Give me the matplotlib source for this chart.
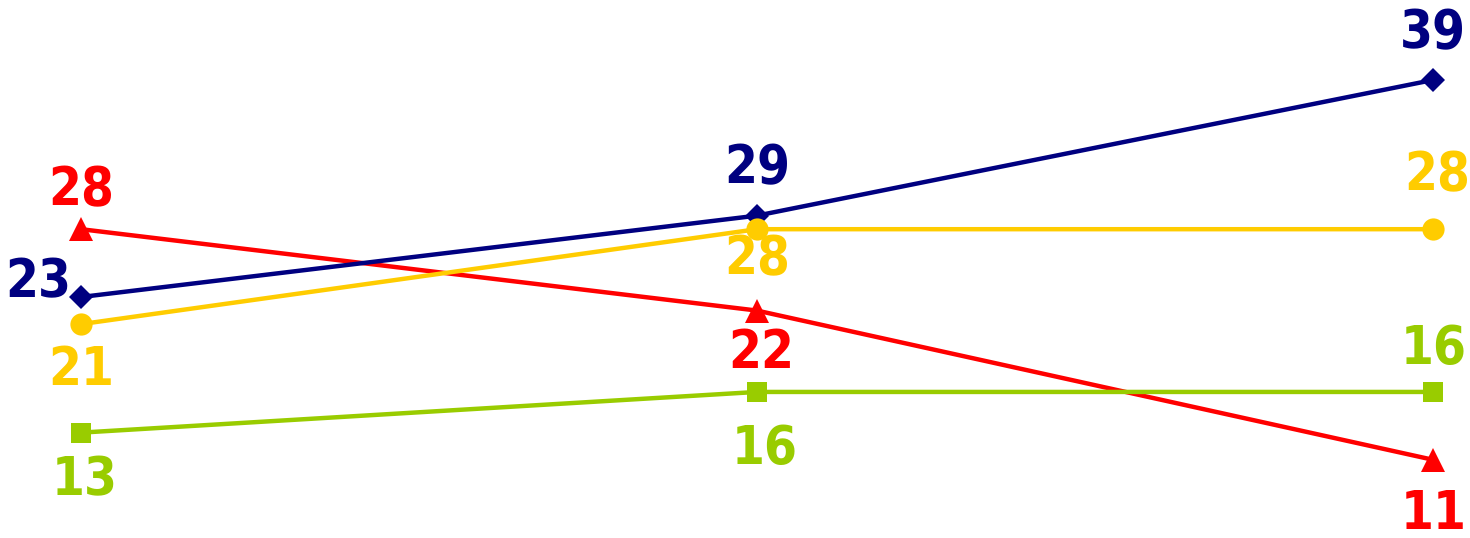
import matplotlib
matplotlib.use("Agg")
import matplotlib.pyplot as plt

# data
periods = [0, 1, 2]
navy_vals = [23, 29, 39]
red_vals = [28, 22, 11]
yellow_vals = [21, 28, 28]
green_vals = [13, 16, 16]

# (values, colour, marker, marker size, label offsets in pixels)
series = [
    (red_vals, "#FF0000", "^", 17, [(0, 39), (4, -42), (1, -54)]),
    (navy_vals, "#000080", "D", 12, [(-43, 15), (0, 47), (0, 47)]),
    (yellow_vals, "#FFCC00", "o", 16, [(0, -46), (0, -30), (4, 54)]),
    (green_vals, "#99CC00", "s", 15, [(4, -48), (8, -57), (1, 43)]),
]

fig = plt.figure(figsize=(14.7, 5.38), dpi=100)
ax = fig.add_axes([0, 0, 1, 1])

for vals, col, mk, ms, offs in series:
    ax.plot(periods, vals, color=col, linewidth=3.2, marker=mk, markersize=ms,
            markeredgewidth=0, solid_capstyle="butt")
    for x, v, (dx, dy) in zip(periods, vals, offs):
        ax.annotate(str(v), (x, v), xytext=(dx, dy), textcoords="offset pixels",
                    ha="center", va="center", color=col, fontsize=38,
                    fontweight="bold", family="DejaVu Sans",
                    fontstretch="condensed")

ax.set_xlim(-0.12, 2.055)
ax.set_ylim(5.23, 44.9)
ax.axis("off")

fig.savefig("out.png", dpi=100)
